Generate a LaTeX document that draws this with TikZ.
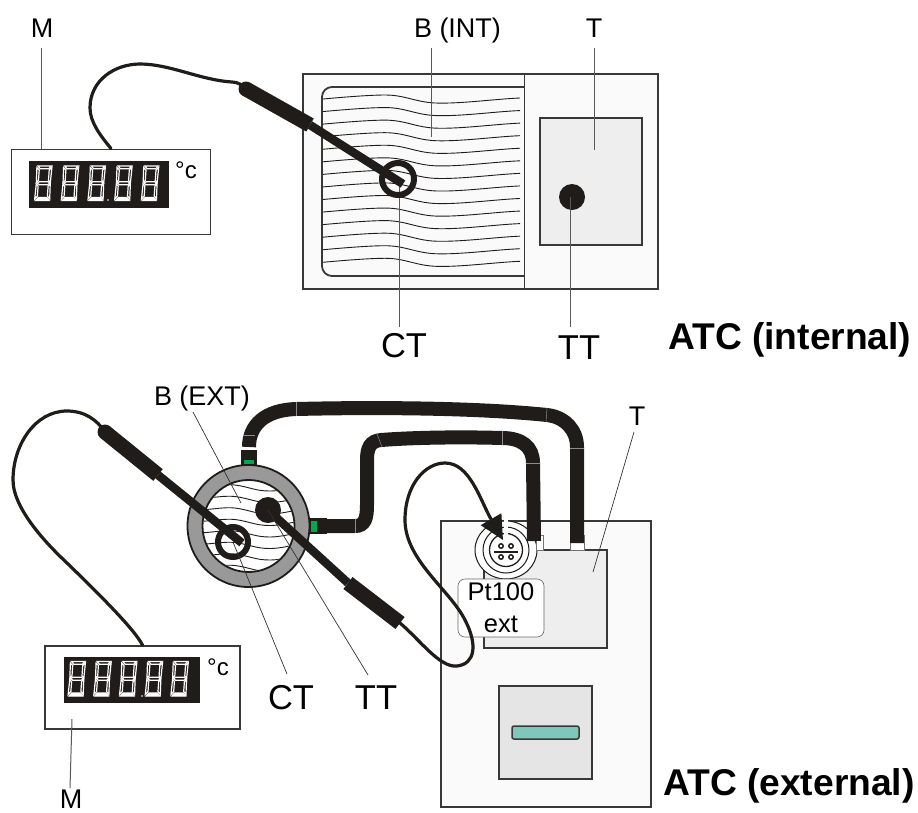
\documentclass[tikz,border=0pt]{standalone}
\usepackage{fontspec}
\setmainfont{Liberation Sans}
\usepackage{xcolor}
\usetikzlibrary{positioning,arrows.meta}
\definecolor{inkblack}{HTML}{1F1C1A}
\definecolor{bordergray}{HTML}{3A3836}
\definecolor{panelgray}{HTML}{EEEEEE}
\definecolor{lowgray}{HTML}{E5E5E5}
\definecolor{casefill}{HTML}{FAFAFA}
\definecolor{ringgray}{HTML}{999999}
\definecolor{plugreen}{HTML}{00A651}
\definecolor{slotteal}{HTML}{80C6BA}
\newcommand{\segdigit}[2]{%
	\begin{scope}[shift={(#1,#2)},xslant=0.07,seg/.style={draw=white,line width=1.2pt,fill=inkblack}]
		\draw[seg] (1.5,0) -- (15,0) -- (12.5,2.8) -- (4,2.8) -- cycle;
		\draw[seg] (0.5,1.5) -- (3,4) -- (3,14.5) -- (1,16.5) -- cycle;
		\draw[seg] (15.5,1.5) -- (13,4) -- (13,14.5) -- (15,16.5) -- cycle;
		\draw[seg] (2,17.2) -- (4,15.7) -- (12.5,15.7) -- (14.5,17.2) -- (12.5,18.7) -- (4,18.7) -- cycle;
		\draw[seg] (0.5,33) -- (3,30) -- (3,20) -- (1,18) -- cycle;
		\draw[seg] (15.5,33) -- (13,30) -- (13,20) -- (15,18) -- cycle;
		\draw[seg,fill=white] (1.5,34.5) -- (15,34.5) -- (12.5,31.5) -- (4,31.5) -- cycle;
	\end{scope}}

\begin{document}
\begin{tikzpicture}[
		x=1pt, y=-1pt,
		casebox/.style={draw=bordergray, line width=1.8pt, fill=casefill},
		panelbox/.style={draw=bordergray, line width=1.8pt, fill=panelgray},
		meterbox/.style={draw=bordergray, line width=1.8pt, fill=white, minimum width=199pt, minimum height=85pt, inner sep=0pt},
		tag/.style={inner sep=0pt, anchor=base, font=\fontsize{27}{30}\selectfont},
		bigtag/.style={inner sep=0pt, anchor=base, font=\fontsize{34.5}{38}\selectfont},
		headline/.style={inner sep=0pt, anchor=base west, font=\fontsize{37.2}{42}\selectfont\bfseries},
		leader/.style={draw=black!65, line width=1pt},
		thinleader/.style={draw=black!80, line width=0.7pt},
		wave/.style={draw=inkblack, line width=0.9pt},
		cable/.style={draw=inkblack, line width=3.2pt, line cap=round},
		sheath/.style={draw=inkblack, line width=15pt},
		stem/.style={draw=inkblack, line width=8.5pt},
		tube/.style={draw=inkblack, line width=14pt},
		seam/.style={draw=black!45, line width=0.5pt},
		degree/.style={inner sep=0pt, font=\fontsize{24}{26}\selectfont}
		]
		\useasboundingbox (0,0) rectangle (918,812);
		
		% internal sensor, top half
		\node[meterbox] (meterA) at (111,192) {};
		\fill[inkblack] (29,161) rectangle (169,208);
		\foreach \n in {0,...,4}
			\segdigit{36.5+26.7*\n}{166};
		\fill[white] (108,200) circle (0.9);
		\node[degree] (unitA) at (186,170) {°c};
		
		\draw[casebox] (303,74) rectangle (658,289);
		\draw[casebox, rounded corners=10pt] (524.5,87) -- (322,87) -- (322,276) -- (524.5,276);
		\draw[casebox, fill=none] (524.5,74) -- (524.5,289);
		\foreach \i in {0,...,13}
			\draw[wave, shift={(0,99+12.56*\i)}] (323,0) .. controls (345,-2) and (370,-4) .. (385,-4) .. controls (405,-4) and (415,3) .. (435,4) .. controls (460,5) and (495,0) .. (520,-1);
		\draw[panelbox] (540,118) rectangle (642,245);
		\fill[inkblack] (572,197) circle (13);
		
		\node[tag] (labelMa) at (42,37) {M};
		\node[tag] (labelBint) at (457.5,37) {B (INT)};
		\node[tag] (labelTa) at (594,37) {T};
		\node[bigtag] (labelCTa) at (404,357) {CT};
		\node[bigtag] (labelTTa) at (579,359) {TT};
		\node[headline] (titleA) at (668,349) {ATC (internal)};
		
		\coordinate (footMa) at (41,48);
		\coordinate (footBint) at (431,48);
		\coordinate (endBint) at (431,137);
		\coordinate (footTa) at (594,48);
		\coordinate (endTa) at (594,150);
		\coordinate (ringA) at (398,179);
		\coordinate (dotA) at (570,197);
		\coordinate (footCTa) at (399,327);
		\coordinate (footTTa) at (570,327);
		\draw[leader] (footMa) -- (footMa |- meterA.north);
		\draw[leader] (footBint) -- (endBint);
		\draw[leader] (footTa) -- (endTa);
		\draw[leader] (footCTa |- ringA) -- (footCTa);
		\draw[leader] (dotA) -- (footTTa);
		
		\coordinate (gripA) at (246,89);
		\coordinate (neckA) at (310,125);
		\coordinate (tipA) at (403,184);
		\draw[cable] (meterA.north) .. controls (100,135) and (90,122) .. (90,108) .. controls (90,80) and (115,64) .. (140,64) .. controls (170,64) and (200,80) .. (232,82) .. controls (238,82) and (242,85) .. (gripA);
		\draw[stem] (neckA) -- (tipA);
		\draw[sheath] (gripA) -- (neckA);
		\fill[inkblack] (gripA) circle (7.5);
		\draw[draw=inkblack, line width=6pt] (ringA) circle (16);
		
		% external sensor, bottom half
		\node[meterbox, minimum width=195pt, minimum height=83pt] (meterB) at (142.5,687.5) {};
		\fill[inkblack] (64,657) rectangle (200,703);
		\foreach \n in {0,...,4}
			\segdigit{70+25.7*\n}{661.5};
		\fill[white] (142,696) circle (0.9);
		\node[degree] (unitB) at (218,667) {°c};
		
		\draw[casebox] (441,521) rectangle (651,807);
		\draw[panelbox] (484,550) rectangle (607,648);
		\draw[draw=bordergray, line width=1.8pt, fill=lowgray] (499,686) rectangle (592,779);
		\draw[draw=bordergray, line width=1.5pt, fill=slotteal, rounded corners=2pt] (512,726) rectangle (579,739);
		
		\coordinate (bathC) at (248.5,526);
		\draw[draw=inkblack, line width=1.8pt, fill=ringgray] (bathC) circle (61);
		\draw[draw=inkblack, line width=1.8pt, fill=white] (bathC) circle (46);
		\begin{scope}
			\clip (bathC) circle (45);
			\foreach \i in {0,...,7}
				\draw[wave, shift={(0,487+11.5*\i)}] (200,0) .. controls (215,-1) and (225,-3) .. (235,-2) .. controls (250,0) and (255,4) .. (270,4) .. controls (280,4) and (290,1) .. (300,0);
		\end{scope}
		
		% sensor plug and its leads
		\coordinate (plugC) at (506,550);
		\draw[draw=inkblack, line width=1pt, fill=white] (plugC) ellipse (31 and 29);
		\draw[draw=inkblack, line width=1pt] (plugC) circle (23);
		\draw[draw=inkblack, line width=1.3pt] (plugC) circle (16.5);
		\draw[draw=inkblack, line width=1.5pt] (494,552) -- (518,552);
		\foreach \px/\py in {501/546,511/546,501/557,511/557}
			\draw[draw=inkblack, line width=1.5pt, fill=white] (\px,\py) circle (2.2);
		
		\draw[draw=black!55, line width=0.7pt, fill=white] (570,535) rectangle (584,550);
		\draw[draw=black!55, line width=0.7pt, fill=white] (536,535) rectangle (543,550);
		\draw[tube] (249,447) .. controls (249,425) and (265,410) .. (296,409) .. controls (380,407) and (480,408) .. (547,415) .. controls (565,417) and (577,430) .. (577,447) -- (577,543);
		\draw[tube] (325,526) -- (355,526) .. controls (365,526) and (367,518) .. (367,505) -- (367,460) .. controls (367,448) and (370,441) .. (381,440) .. controls (420,437) and (470,437) .. (502,438) .. controls (522,438) and (533,447) .. (533,463) -- (534,541);
		\fill[inkblack] (241,450) rectangle (257,465);
		\fill[inkblack] (310,518) rectangle (327,534);
		\fill[plugreen] (244,460) rectangle (254,464);
		\fill[plugreen] (311,521) rectangle (317,532);
		\foreach \sx/\sy/\tx/\ty in {296/402/296/416,243/435/255/435,547/408/546/422,570/448/584/448,502/431/502/445,526/463/540/463,355.5/519/355.5/533,377/434/382/447}
			\draw[seam] (\sx,\sy) -- (\tx,\ty);
		
		\node[draw=black!60, line width=0.6pt, fill=white, rounded corners=7pt, minimum width=86pt, minimum height=58pt, inner sep=0pt, align=center, font=\fontsize{25.5}{32}\selectfont] (ptlabel) at (501,608) {Pt100\\ext};
		
		\coordinate (gripB) at (105,432);
		\coordinate (neckB) at (158,475);
		\coordinate (tipB) at (242,543);
		\coordinate (ringB) at (233,542);
		\coordinate (dotB) at (268,510);
		\coordinate (gripC) at (400,623);
		\coordinate (neckC) at (348,583);
		\coordinate (plugtip) at (503,540);
		\draw[cable] (meterB.north) .. controls (135,630) and (100,595) .. (67,563) .. controls (50,547) and (13,510) .. (13,480) .. controls (13,445) and (35,411) .. (67,411) .. controls (85,411) and (97,420) .. (gripB);
		\draw[stem] (neckB) -- (tipB);
		\draw[sheath] (gripB) -- (neckB);
		\fill[inkblack] (gripB) circle (7.5);
		\draw[draw=inkblack, line width=6pt] (ringB) circle (15);
		\fill[inkblack] (dotB) circle (13);
		\draw[stem] (dotB) -- (neckC);
		\draw[sheath] (neckC) -- (gripC);
		\draw[cable, -{Triangle[length=24pt,width=23pt]}] (gripC) .. controls (420,640) and (440,668) .. (457,666) .. controls (475,664) and (478,645) .. (465,620) .. controls (450,590) and (405,560) .. (405,520) .. controls (405,485) and (425,463) .. (445,463) .. controls (470,463) and (480,500) .. (plugtip);
		\fill[white] (504,516) rectangle (508,544);
		
		\node[tag] (labelBext) at (202,405) {B (EXT)};
		\node[tag] (labelTb) at (637,425) {T};
		\node[tag] (labelMb) at (71,808) {M};
		\node[bigtag] (labelCTb) at (291,709) {CT};
		\node[bigtag] (labelTTb) at (376,709) {TT};
		\node[headline] (titleB) at (663,795) {ATC (external)};
		
		\coordinate (footBext) at (193,412);
		\coordinate (endBext) at (241,503);
		\coordinate (footTb) at (634,432);
		\coordinate (endTb) at (593,572);
		\coordinate (footCTb) at (287,674);
		\coordinate (footTTb) at (368,675);
		\coordinate (endMb) at (72,719);
		\coordinate (footMb) at (70,788);
		\draw[thinleader] (footBext) -- (endBext);
		\draw[thinleader] (footTb) -- (endTb);
		\draw[thinleader] (ringB) -- (footCTb);
		\draw[thinleader] (dotB) -- (footTTb);
		\draw[leader] (endMb) -- (footMb);
	\end{tikzpicture}
\end{document}
